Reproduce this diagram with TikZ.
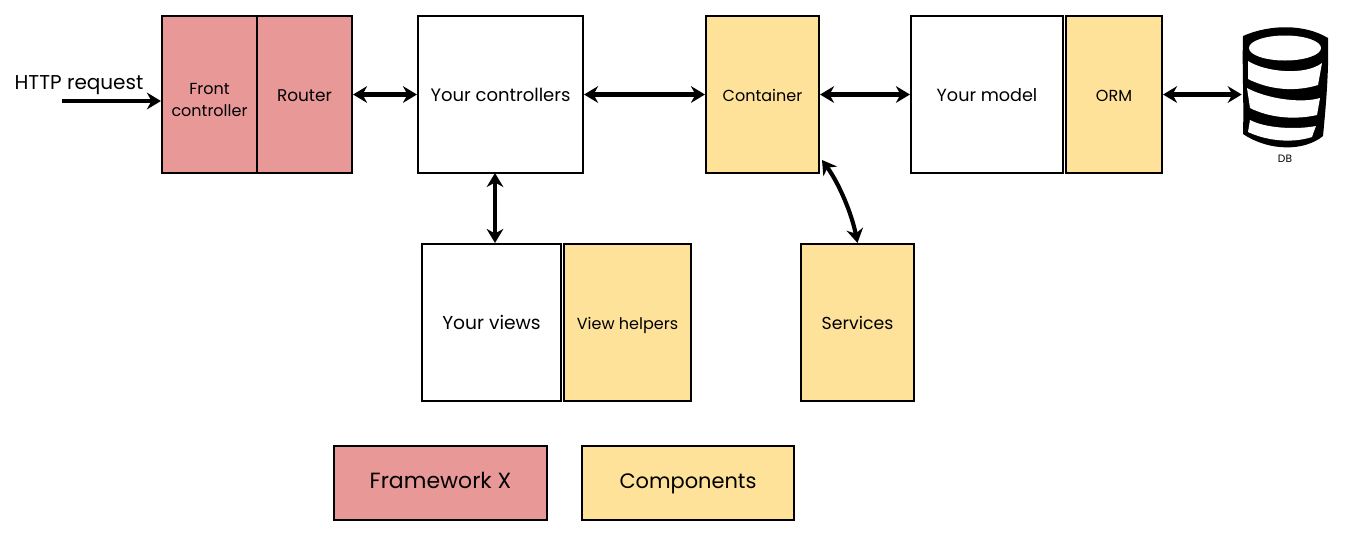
\documentclass[tikz,border=0pt]{standalone}
\usepackage{fontspec}
\setmainfont{Poppins}
\usetikzlibrary{arrows.meta}
\definecolor{fwred}{HTML}{E99898}
\definecolor{compyellow}{HTML}{FEE299}
\tikzset{
  x=0.75pt,y=-0.75pt,
  box/.style={draw=black,line width=1.6pt,inner sep=0pt,align=center,font=\fontsize{12}{17}\selectfont},
  plainbox/.style={box,fill=white},
  fwbox/.style={box,fill=fwred},
  compbox/.style={box,fill=compyellow},
  uniform/.style={text height=13pt,text depth=3pt},
  legend/.style={font=\fontsize{16}{20}\selectfont,text height=12pt,text depth=4pt},
  conn/.style={line width=3.1pt,-{Stealth[length=10.5pt,width=12.5pt]}},
  biconn/.style={line width=3.1pt,{Stealth[length=10.5pt,width=12.5pt]}-{Stealth[length=10.5pt,width=12.5pt]}},
}
\newcommand{\placebox}[7]{% style,name,x1,y1,x2,y2,text
  \node[#1,minimum width=0.75pt*(#5-#3),minimum height=0.75pt*(#6-#4)] (#2) at ({(#3+#5)/2},{(#4+#6)/2}) {#7};
}
\begin{document}
\begin{tikzpicture}
\useasboundingbox (0,0) rectangle (1364,537);
\placebox{fwbox}{front}{162}{16}{257}{173}{\rule{0pt}{16.5pt}Front\\controller}
\placebox{fwbox,uniform,font=\fontsize{12.7}{17}\selectfont}{router}{257}{16}{352}{173}{Router}
\placebox{plainbox,uniform,font=\fontsize{13.5}{17}\selectfont}{ctrl}{418}{16}{583}{173}{Your controllers}
\placebox{compbox,uniform}{container}{706}{16}{819}{173}{Container}
\placebox{plainbox,uniform,font=\fontsize{13.2}{17}\selectfont}{model}{911}{16}{1063}{173}{Your model}
\placebox{compbox,uniform}{orm}{1066}{16}{1162}{173}{ORM}
\placebox{plainbox,uniform,font=\fontsize{14}{17}\selectfont}{views}{422}{244}{561}{401}{Your views}
\placebox{compbox,uniform}{helpers}{564}{244}{691}{401}{View helpers}
\placebox{compbox,uniform,font=\fontsize{13}{17}\selectfont}{services}{801}{244}{914}{401}{Services}
\placebox{fwbox,legend,font=\fontsize{16.5}{20}\selectfont}{fwlegend}{334}{446}{547}{520}{Framework X}
\placebox{compbox,legend,font=\fontsize{15.7}{20}\selectfont}{complegend}{582}{446}{794}{520}{Components}
% database
\node[minimum width=64.5pt,minimum height=93pt,inner sep=0pt] (db) at (1285,88) {};
\fill[black] (1243,36) .. controls (1270,24) and (1305,24) .. (1328,38)
  .. controls (1329,70) and (1326,105) .. (1323,136)
  .. controls (1305,151) and (1270,152) .. (1243,134)
  .. controls (1244,100) and (1242,70) .. (1243,36) -- cycle;
\fill[white] (1285,48) ellipse [x radius=36,y radius=12.5];
\fill[white] (1248,61) .. controls (1265,72) and (1305,76) .. (1322,63)
  -- (1318,85) .. controls (1295,92) and (1270,90) .. (1248,79) -- cycle;
\fill[white] (1247,88) .. controls (1265,98) and (1300,104) .. (1320,98)
  -- (1317,115) .. controls (1295,120) and (1270,118) .. (1250,108) -- cycle;
\fill[white] (1250,120) .. controls (1265,128) and (1295,130) .. (1316,126)
  .. controls (1314,131) and (1313,134) .. (1312,137)
  .. controls (1290,144) and (1265,140) .. (1248,132) -- cycle;
\node[font=\fontsize{8}{9}\selectfont,inner sep=0pt] (dblabel) at (1285,159) {DB};
% free text
\node[font=\fontsize{15}{17}\selectfont,inner sep=0pt] (http) at (79,85) {HTTP request};
\coordinate (start) at (62,101);
\coordinate (ctrlv) at (495,173);
\coordinate (contse) at (822,160);
% connectors
\draw[conn] (start) -- (start -| front.west);
\draw[biconn] (router.east) -- (ctrl.west);
\draw[biconn] (ctrl.east) -- (container.west);
\draw[biconn] (container.east) -- (model.west);
\draw[biconn] (orm.east) -- (orm.east -| db.west);
\draw[biconn] (ctrlv) -- (ctrlv |- views.north);
\draw[biconn] (contse) .. controls (840,185) and (852,215) .. (services.north);
\end{tikzpicture}
\end{document}
